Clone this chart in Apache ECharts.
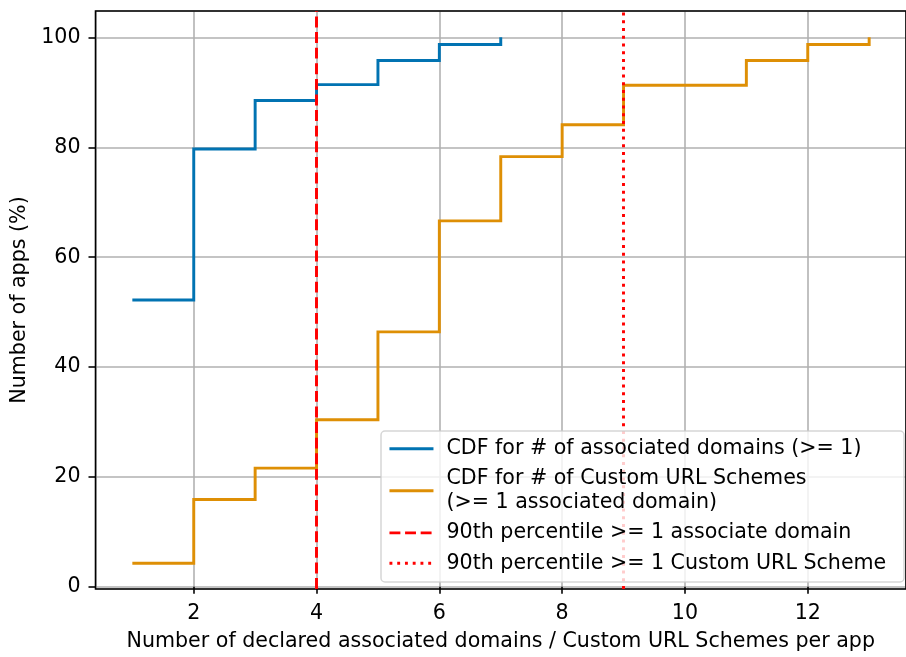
<!DOCTYPE html>
<html>
<head>
<meta charset="utf-8">
<script src="https://cdn.jsdelivr.net/npm/echarts@6/dist/echarts.min.js"></script>
<style>
html,body{margin:0;padding:0;background:#fff;}
#chart{width:906px;height:657px;}
</style>
</head>
<body>
<div id="chart"></div>
<script>
// ---- data ----
const domainsX = [1, 2, 3, 4, 5, 6, 7];
const domainsCdf = [52.2, 79.7, 88.5, 91.4, 95.8, 98.7, 100];
const schemesX = [1, 2, 3, 4, 5, 6, 7, 8, 9, 10, 11, 12, 13];
const schemesCdf = [4.3, 15.9, 21.6, 30.4, 46.4, 66.6, 78.3, 84.1, 91.3, 91.3, 95.8, 98.7, 100];
const p90Domains = 4;
const p90Schemes = 9;
const seriesNames = [
  'CDF for # of associated domains (>= 1)',
  'CDF for # of Custom URL Schemes\n(>= 1 associated domain)',
  '90th percentile >= 1 associate domain',
  '90th percentile >= 1 Custom URL Scheme'
];
const xLabelTitle = 'Number of declared associated domains / Custom URL Schemes per app';
const yLabelTitle = 'Number of apps (%)';

const FONT = 'DejaVu Sans';
const FS = 20.6;
const LW = 2.94;

const chart = echarts.init(document.getElementById('chart'), null, {renderer: 'canvas'});
const zip = (xs, ys) => xs.map((x, i) => [x, ys[i]]);

const axisCommon = {
  z: 0,
  axisLine: {show: false},
  axisTick: {show: true, inside: false, length: 7, lineStyle: {color: '#000', width: 1.57}},
  axisLabel: {color: '#000', fontFamily: FONT, fontSize: FS, showMinLabel: false, showMaxLabel: false},
  splitLine: {show: true, lineStyle: {color: '#b0b0b0', width: 1.57}},
  nameTextStyle: {color: '#000', fontFamily: FONT, fontSize: FS},
  nameLocation: 'middle'
};

const option = {
  animation: false,
  backgroundColor: '#fff',
  grid: {
    left: 95.5, top: 11, width: 818.5, height: 581.7, z: 5,
    show: true, borderColor: '#000', borderWidth: 1.57, containLabel: false
  },
  xAxis: Object.assign({}, axisCommon, {
    type: 'value', min: 0.4, max: 13.6, splitNumber: 7,
    name: xLabelTitle, nameGap: 42,
    axisLabel: Object.assign({}, axisCommon.axisLabel, {margin: 14})
  }),
  yAxis: Object.assign({}, axisCommon, {
    type: 'value', min: -0.4, max: 104.8, splitNumber: 5,
    name: yLabelTitle, nameGap: 61,
    axisLabel: Object.assign({}, axisCommon.axisLabel, {margin: 15})
  }),
  legend: {
    orient: 'vertical', left: 388, top: 437, padding: 0,
    itemWidth: 44, itemHeight: 14, itemGap: 7,
    selectedMode: false, z: 101,
    itemStyle: {opacity: 0},
    lineStyle: {width: LW},
    textStyle: {color: '#000', fontFamily: FONT, fontSize: FS, lineHeight: 23.4, padding: [0, 0, 0, 8]},
    data: seriesNames
  },
  graphic: [{
    type: 'rect', z: 100,
    shape: {x: 381, y: 431, width: 523, height: 151, r: 4},
    style: {fill: 'rgba(255,255,255,0.8)', stroke: 'rgba(204,204,204,0.8)', lineWidth: 1.5}
  }],
  series: [
    {
      name: seriesNames[0], type: 'line', step: 'end', symbol: 'none',
      data: zip(domainsX, domainsCdf), z: 3,
      lineStyle: {color: '#0173b2', width: LW, join: 'miter'}, itemStyle: {color: '#0173b2'}
    },
    {
      name: seriesNames[1], type: 'line', step: 'end', symbol: 'none',
      data: zip(schemesX, schemesCdf), z: 3,
      lineStyle: {color: '#de8f05', width: LW, join: 'miter'}, itemStyle: {color: '#de8f05'}
    },
    {
      name: seriesNames[2], type: 'line', symbol: 'none', data: [], z: 4,
      lineStyle: {color: '#ff0000', width: LW, type: [10.9, 4.7]}, itemStyle: {color: '#ff0000'},
      markLine: {
        silent: true, symbol: 'none', label: {show: false}, animation: false,
        lineStyle: {color: '#ff0000', width: LW, type: [10.9, 4.7]},
        data: [{xAxis: p90Domains}]
      }
    },
    {
      name: seriesNames[3], type: 'line', symbol: 'none', data: [], z: 4,
      lineStyle: {color: '#ff0000', width: LW, type: [2.9, 4.85]}, itemStyle: {color: '#ff0000'},
      markLine: {
        silent: true, symbol: 'none', label: {show: false}, animation: false,
        lineStyle: {color: '#ff0000', width: LW, type: [2.9, 4.85]},
        data: [{xAxis: p90Schemes}]
      }
    }
  ]
};
chart.setOption(option);
</script>
</body>
</html>
